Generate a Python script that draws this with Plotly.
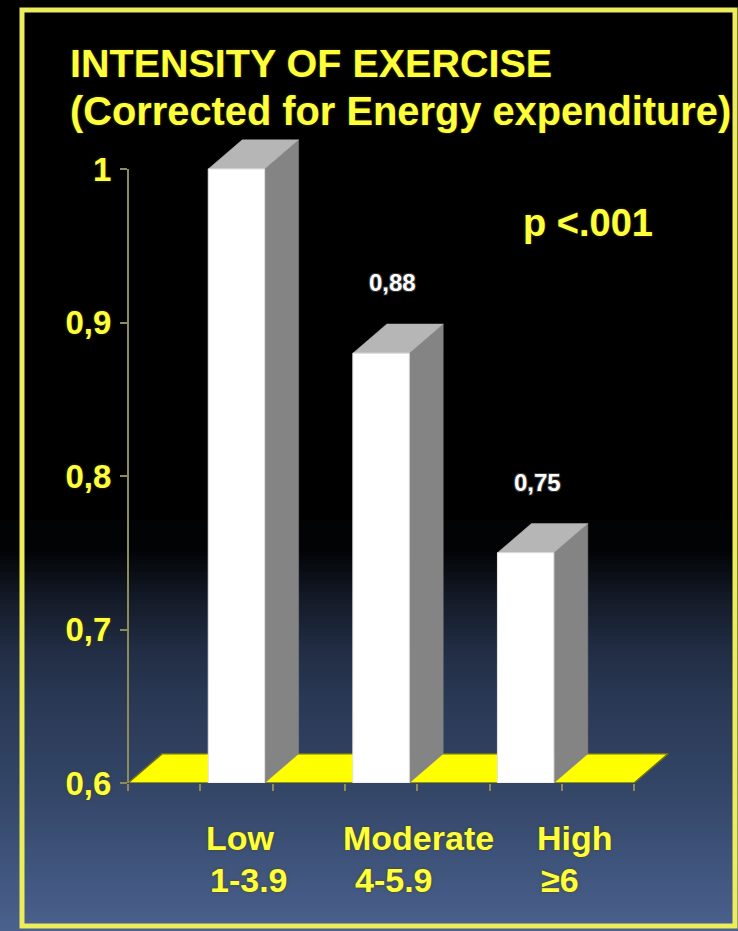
import plotly.graph_objects as go

# ---- data ----
categories = ["Low", "Moderate", "High"]
category_ranges = ["1-3.9", "4-5.9", "≥6"]
intensity = [1.0, 0.88, 0.75]
show_value = [False, True, True]
y_tick_values = [0.6, 0.7, 0.8, 0.9, 1.0]
y_tick_text = ["0,6", "0,7", "0,8", "0,9", "1"]
x_tick_values = [-0.5, 0.0, 0.5, 1.0, 1.5, 2.0, 2.5, 3.0]
title_lines = ["INTENSITY OF EXERCISE", "(Corrected for Energy expenditure)"]
p_text = "p <.001"

# ---- geometry / style ----
W, H = 738, 931
BASE = 0.6
FRONT_L, FRONT_R = 0.055, 0.445   # front face span inside a category slot
DX, DY = 0.235, 0.019             # oblique depth offset (axis units)
FLOOR_END = 3.0
X_RANGE = [-0.5, 3.5]
Y_RANGE = [0.6, 1.1]
FONT = "Liberation Sans, Arial, Helvetica, sans-serif"
YELLOW = "#ffff3c"
OLIVE = "#8c8c5a"
GLOW = "0px 0px 3px rgba(70,70,0,0.9)"


def px_x(p):
    return p / W


def px_y(p):
    return 1 - p / H


fig = go.Figure()

# background: black top fading into slate blue at the bottom
stops = [(0, (0, 0, 0)), (550, (2, 3, 5)), (600, (20, 27, 40)), (650, (33, 45, 68)),
         (700, (41, 56, 84)), (800, (53, 72, 106)), (931, (74, 97, 142))]


def colour_at(y):
    for (y0, c0), (y1, c1) in zip(stops[:-1], stops[1:]):
        if y0 <= y <= y1:
            t = (y - y0) / (y1 - y0) if y1 > y0 else 0
            c = [round(a + (b - a) * t) for a, b in zip(c0, c1)]
            return "rgb(%d,%d,%d)" % tuple(c)
    return "rgb(%d,%d,%d)" % stops[-1][1]


shapes = []
step = 4
for y in range(520, H, step):
    shapes.append(dict(type="rect", xref="paper", yref="paper", layer="below",
                       x0=0, x1=1, y0=max(0, px_y(y + step + 1)), y1=px_y(y),
                       fillcolor=colour_at(y + step / 2), line=dict(width=0)))

# yellow frame
shapes.append(dict(type="rect", xref="paper", yref="paper", layer="below",
                   x0=px_x(22), x1=px_x(735), y0=px_y(926), y1=px_y(10),
                   fillcolor="rgba(0,0,0,0)", line=dict(color="#ecec5c", width=5)))

# y axis line from 0,6 to 1
shapes.append(dict(type="line", xref="paper", yref="y",
                   x0=px_x(128), x1=px_x(128), y0=BASE, y1=max(y_tick_values),
                   line=dict(color=OLIVE, width=2)))

# floor (yellow parallelogram)
fx = [X_RANGE[0], FLOOR_END, FLOOR_END + DX, X_RANGE[0] + DX, X_RANGE[0]]
fy = [BASE, BASE, BASE + DY, BASE + DY, BASE]
fig.add_trace(go.Scatter(x=fx, y=fy, mode="lines", fill="toself",
                         fillcolor="#ffff00", line=dict(color="#6e6e20", width=1.5),
                         hoverinfo="skip", showlegend=False))

# 3D bars: side, top, front
for i, v in enumerate(intensity):
    x0, x1 = i + FRONT_L, i + FRONT_R
    fig.add_trace(go.Scatter(
        x=[x1, x1 + DX, x1 + DX, x1, x1], y=[BASE, BASE + DY, v + DY, v, BASE],
        mode="lines", fill="toself", fillcolor="#848484",
        line=dict(color="#848484", width=0.5), hoverinfo="skip", showlegend=False))
    fig.add_trace(go.Scatter(
        x=[x0, x1, x1 + DX, x0 + DX, x0], y=[v, v, v + DY, v + DY, v],
        mode="lines", fill="toself", fillcolor="#b6b6b6",
        line=dict(color="#b6b6b6", width=0.5), hoverinfo="skip", showlegend=False))
    fig.add_trace(go.Scatter(
        x=[x0, x1, x1, x0, x0], y=[BASE, BASE, v, v, BASE],
        mode="lines", fill="toself", fillcolor="#ffffff",
        line=dict(color="#e4e4e4", width=1), hoverinfo="skip", showlegend=False))

annotations = []

# value labels above the shorter bars
for i, (v, show) in enumerate(zip(intensity, show_value)):
    if not show:
        continue
    annotations.append(dict(
        x=i + 0.33, y=v + 0.046, xref="x", yref="y", showarrow=False,
        text=f"{v:.2f}".replace(".", ","), xanchor="center", yanchor="middle",
        font=dict(family=FONT, size=24, color="#ffffff", weight="bold",
                  shadow="1px 1px 0 #333, -1px -1px 0 #333, 1px -1px 0 #333, -1px 1px 0 #333")))

# category labels (two lines each)
name_x = [0.28, 1.51, 2.59]
range_x = [0.34, 1.34, 2.49]
for i in range(len(categories)):
    annotations.append(dict(x=name_x[i], y=px_y(838), xref="x", yref="paper",
                            text=categories[i], showarrow=False,
                            xanchor="center", yanchor="middle",
                            font=dict(family=FONT, size=34, color=YELLOW, weight="bold",
                                      shadow=GLOW)))
    annotations.append(dict(x=range_x[i], y=px_y(880), xref="x", yref="paper",
                            text=category_ranges[i], showarrow=False,
                            xanchor="center", yanchor="middle",
                            font=dict(family=FONT, size=34, color=YELLOW, weight="bold",
                                      shadow=GLOW)))

# title
annotations.append(dict(x=px_x(68), y=px_y(63), xref="paper", yref="paper",
                        text=title_lines[0], showarrow=False,
                        xanchor="left", yanchor="middle",
                        font=dict(family=FONT, size=39.5, color=YELLOW, weight="bold",
                                  shadow=GLOW)))
annotations.append(dict(x=px_x(68), y=px_y(111), xref="paper", yref="paper",
                        text=title_lines[1], showarrow=False,
                        xanchor="left", yanchor="middle",
                        font=dict(family=FONT, size=39.8, color=YELLOW, weight="bold",
                                  shadow=GLOW)))

# significance note
annotations.append(dict(x=px_x(521), y=px_y(223), xref="paper", yref="paper",
                        text=p_text, showarrow=False,
                        xanchor="left", yanchor="middle",
                        font=dict(family=FONT, size=38, color=YELLOW, weight="bold",
                                  shadow=GLOW)))

fig.update_layout(
    width=W, height=H,
    autosize=False,
    margin=dict(l=0, r=0, t=0, b=0, pad=0, autoexpand=False),
    paper_bgcolor="#000000",
    plot_bgcolor="rgba(0,0,0,0)",
    shapes=shapes,
    annotations=annotations,
    showlegend=False,
    hovermode=False,
    xaxis=dict(range=X_RANGE, domain=[px_x(128), px_x(128 + 4 * 144.6)],
               automargin=False,
               showgrid=False, zeroline=False, showline=False,
               tickmode="array", tickvals=x_tick_values, showticklabels=False,
               ticks="outside", ticklen=7, tickwidth=2, tickcolor=OLIVE,
               fixedrange=True),
    yaxis=dict(range=Y_RANGE, domain=[1 - 783 / H, 1 - 15.5 / H],
               automargin=False,
               showgrid=False, zeroline=False, showline=False,
               tickmode="array", tickvals=y_tick_values, ticktext=y_tick_text,
               ticks="outside", ticklen=7, tickwidth=2, tickcolor=OLIVE,
               ticklabelstandoff=2,
               tickfont=dict(family=FONT, size=33, color=YELLOW, weight="bold",
                             shadow=GLOW),
               fixedrange=True),
)

fig.write_html("out.html", config={"responsive": False, "displayModeBar": False})
